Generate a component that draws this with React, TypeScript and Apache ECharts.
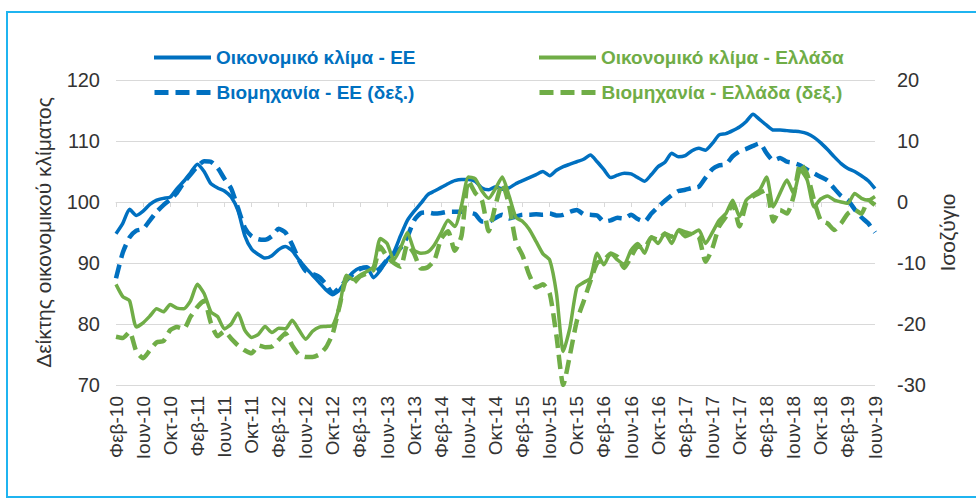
import React, { useEffect, useRef } from "react";
import * as echarts from "echarts";

const MONTHS = ["Ιαν", "Φεβ", "Μαρ", "Απρ", "Μαϊ", "Ιουν", "Ιουλ", "Αυγ", "Σεπ", "Οκτ", "Νοε", "Δεκ"];
const START_YEAR = 2010;
const START_MONTH = 1; // Φεβ
const N_MONTHS = 113; // Φεβ-10 .. Ιουν-19

const categories: string[] = [];
for (let k = 0; k < N_MONTHS; k++) {
  const m = START_MONTH + k;
  categories.push(`${MONTHS[m % 12]}-${String(START_YEAR + Math.floor(m / 12)).slice(2)}`);
}

const NAMES = [
  "Οικονομικό κλίμα - ΕΕ",
  "Βιομηχανία - ΕΕ (δεξ.)",
  "Οικονομικό κλίμα - Ελλάδα",
  "Βιομηχανία - Ελλάδα (δεξ.)",
];

const euClimate = [
  94.8, 96.5, 98.8, 97.8, 98.5, 99.6, 100.3, 100.6, 100.8, 102.2,
  103.4, 104.8, 106.2, 105.0, 103.0, 102.3, 101.8, 100.8, 98.6, 94.5,
  92.3, 91.4, 90.8, 91.2, 92.2, 92.7, 92.0, 90.5, 89.2, 88.0,
  86.8, 85.6, 84.8, 85.6, 87.2, 88.5, 89.2, 89.3, 87.6, 88.8,
  90.5, 91.8, 94.5, 97.0, 98.5, 99.8, 101.2, 101.8, 102.4, 103.0,
  103.5, 103.7, 103.7, 103.4, 102.3, 102.0, 102.5, 102.1, 102.3, 103.0,
  103.5, 104.0, 104.5, 105.0, 104.3, 105.2, 105.8, 106.2, 106.6, 107.0,
  107.7, 106.6, 105.3, 104.0, 104.4, 104.7, 104.6, 104.0, 103.4, 104.5,
  105.8, 106.5, 108.0, 107.4, 107.6, 108.4, 108.8, 108.5, 109.6, 111.0,
  111.2, 111.7, 112.3, 113.2, 114.4, 113.5, 112.6, 111.8, 111.8, 111.7,
  111.6, 111.5, 111.2, 110.6, 109.7, 108.6, 107.4, 106.3, 105.5, 105.0,
  104.3, 103.5, 102.2,
];

const euIndustry = [
  -12.5, -8.3, -5.8, -4.7, -4.4, -3.0, -1.6, -0.5, 0.4, 1.5,
  3.2, 4.5, 5.8, 6.7, 6.6, 5.6, 3.8, 2.2, -1.0, -4.2,
  -5.6, -6.1, -6.2, -5.6, -4.4, -5.0, -7.0, -9.5, -11.3, -11.8,
  -12.3, -13.5, -15.0, -14.0, -12.8, -11.8, -11.0, -10.7, -11.5, -10.8,
  -9.5, -8.5, -7.5, -5.7, -3.0, -1.8, -1.7, -1.9, -1.8, -1.6,
  -1.6, -1.6, -1.7, -2.0, -3.2, -3.2, -2.6, -2.1, -2.7, -2.4,
  -2.1, -2.1, -2.0, -2.1, -1.9, -2.2, -2.1, -1.6, -1.3, -2.0,
  -2.1, -2.2, -3.2, -3.0, -2.6, -2.7, -2.1, -2.8, -3.2, -1.9,
  -0.8, 0.2, 1.1, 1.8, 2.0, 2.3, 2.5, 4.0, 5.4, 6.0,
  6.2, 7.5, 8.3, 8.7, 9.2, 9.6, 8.0, 6.8, 7.2, 6.6,
  6.4, 6.0, 5.3, 4.7, 4.1, 3.5, 2.2, 1.0, 0.3, -1.2,
  -2.5, -3.5, -5.0,
];

const grClimate = [
  86.5, 84.5, 83.8, 79.5, 80.2, 81.3, 82.5, 82.0, 83.2, 82.6,
  82.5, 83.8, 86.5, 85.0, 82.0, 81.2, 79.2, 80.0, 81.8, 79.0,
  77.8, 78.3, 79.6, 78.6, 79.3, 79.2, 80.6, 79.0, 77.5, 78.8,
  79.5, 79.6, 79.8, 83.0, 88.0, 87.3, 88.0, 88.6, 89.4, 94.0,
  93.2, 90.5, 92.5, 95.0, 92.1, 91.6, 91.8, 93.0, 95.0, 97.0,
  96.0, 99.5, 104.1, 103.8, 101.8, 100.6, 102.2, 104.1, 101.0, 97.5,
  96.8, 95.5, 93.5, 91.5, 90.5, 85.0, 75.5, 79.5, 86.0, 86.8,
  87.5, 91.6, 89.7, 91.6, 90.5, 89.8, 92.1, 93.2, 91.6, 94.3,
  93.2, 94.9, 93.2, 95.4, 94.3, 94.8, 95.4, 93.2, 95.0, 97.0,
  98.1, 100.3, 97.6, 100.3, 101.2, 102.0, 104.1, 99.2, 101.5, 103.6,
  101.4, 105.2, 103.6, 99.2, 100.5, 101.0, 100.3, 100.0, 99.8, 101.4,
  100.6, 100.3, 100.9,
];

const grIndustry = [
  -22.1, -22.3, -21.3, -24.5, -25.6, -24.3, -23.0, -22.8, -21.0, -20.5,
  -20.8, -18.8, -17.2, -16.2, -19.8, -22.0, -21.2, -22.4, -23.5, -24.3,
  -24.8, -23.5, -23.8, -23.7, -22.6, -21.5, -23.5, -25.0, -25.4, -25.4,
  -25.0, -23.8, -21.5, -17.0, -12.8, -13.3, -12.2, -11.7, -11.1, -7.3,
  -9.0, -10.0, -10.6, -7.0, -8.5, -10.9, -10.7, -9.5, -6.0, -4.8,
  -8.0, -5.5, 3.5, 1.5, 0.3, -4.8, -0.5, 3.0, -0.5, -6.5,
  -8.8, -12.0, -14.0, -13.5, -15.0, -22.0, -30.0, -25.0, -19.5, -16.3,
  -13.0, -10.0, -9.5, -8.5, -9.0, -10.8, -9.0, -7.3, -7.5, -5.8,
  -6.2, -5.2, -5.7, -4.6, -5.0, -5.3, -5.7, -9.8, -7.6, -4.0,
  -2.4, -0.3, -4.0, -0.2, 0.9, 1.5, 2.0, -3.2, -1.3, -1.9,
  1.0, 6.3, 4.5, 0.3, -3.0, -3.5, -4.6, -3.5, -1.9, -1.3,
  -1.9, 0.3, -0.5,
];

const LEFT_TICKS = { min: 70, max: 120, interval: 10 };
const RIGHT_TICKS = { min: -30, max: 20, interval: 10 };

const BLUE = "#0070C0";
const GREEN = "#70AD47";
const FONT = "Liberation Sans, Arial, sans-serif";
const DASH = [14, 7];

export default function App() {
  const ref = useRef<HTMLDivElement>(null);

  useEffect(() => {
    if (!ref.current) return;
    const chart = echarts.init(ref.current, null, { renderer: "svg" });

    const legendBase = {
      orient: "horizontal",
      padding: 0,
      itemWidth: 57,
      itemHeight: 14,
      itemGap: 0,
      selectedMode: false,
      itemStyle: { opacity: 0 },
    };
    const legendText = (color: string) => ({
      color,
      fontSize: 19,
      fontWeight: "bold",
      fontFamily: FONT,
      lineHeight: 21,
    });

    const option: any = {
      animation: false,
      backgroundColor: "#ffffff",
      graphic: [
        {
          type: "rect",
          shape: { x: 7, y: 12, width: 1000, height: 485 },
          style: { fill: "none", stroke: "#1FB4F0", lineWidth: 2 },
          silent: true,
          z: -10,
        },
      ],
      legend: [
        { ...legendBase, data: [NAMES[0]], left: 152, top: 47, lineStyle: { width: 4 }, textStyle: legendText(BLUE) },
        { ...legendBase, data: [NAMES[1]], left: 152, top: 82, lineStyle: { width: 5, type: DASH }, textStyle: legendText(BLUE) },
        { ...legendBase, data: [NAMES[2]], left: 537, top: 47, lineStyle: { width: 4 }, textStyle: legendText(GREEN) },
        { ...legendBase, data: [NAMES[3]], left: 537, top: 82, lineStyle: { width: 5, type: DASH }, textStyle: legendText(GREEN) },
      ],
      grid: { left: 116, right: 101, top: 80, bottom: 115, containLabel: false },
      xAxis: {
        type: "category",
        data: categories,
        boundaryGap: false,
        axisLine: { lineStyle: { color: "#D9D9D9", width: 1 } },
        axisTick: { interval: 3, length: 5, lineStyle: { color: "#D9D9D9" } },
        axisLabel: {
          interval: 3,
          rotate: 90,
          margin: 11,
          color: "#333333",
          fontSize: 19,
          fontFamily: FONT,
        },
        splitLine: { show: false },
      },
      yAxis: [
        {
          type: "value",
          ...LEFT_TICKS,
          name: "Δείκτης οικονομικού κλίματος",
          nameLocation: "middle",
          nameGap: 62,
          nameTextStyle: { color: "#333333", fontSize: 21, fontFamily: FONT },
          axisLine: { show: false },
          axisTick: { show: false },
          axisLabel: { margin: 16, color: "#333333", fontSize: 20, fontFamily: FONT },
          splitLine: { lineStyle: { color: "#D9D9D9", width: 1 } },
        },
        {
          type: "value",
          position: "right",
          ...RIGHT_TICKS,
          name: "Ισοζύγιο",
          nameLocation: "middle",
          nameGap: 62,
          nameTextStyle: { color: "#333333", fontSize: 21, fontFamily: FONT },
          axisLine: { show: false },
          axisTick: { show: false },
          axisLabel: { margin: 22, color: "#333333", fontSize: 20, fontFamily: FONT },
          splitLine: { show: false },
        },
      ],
      series: [
        {
          name: NAMES[0],
          type: "line",
          data: euClimate,
          yAxisIndex: 0,
          symbol: "none",
          smooth: 0.2,
          lineStyle: { color: BLUE, width: 3.5 },
          itemStyle: { color: BLUE },
          z: 2,
        },
        {
          name: NAMES[1],
          type: "line",
          data: euIndustry,
          yAxisIndex: 1,
          symbol: "none",
          smooth: 0.2,
          lineStyle: { color: BLUE, width: 4.5, type: DASH },
          itemStyle: { color: BLUE },
          z: 2,
        },
        {
          name: NAMES[2],
          type: "line",
          data: grClimate,
          yAxisIndex: 0,
          symbol: "none",
          smooth: 0.2,
          lineStyle: { color: GREEN, width: 3.5 },
          itemStyle: { color: GREEN },
          z: 3,
        },
        {
          name: NAMES[3],
          type: "line",
          data: grIndustry,
          yAxisIndex: 1,
          symbol: "none",
          smooth: 0.2,
          lineStyle: { color: GREEN, width: 4.5, type: DASH },
          itemStyle: { color: GREEN },
          z: 3,
        },
      ],
    };

    chart.setOption(option);
    return () => chart.dispose();
  }, []);

  return (
    <div
      ref={ref}
      style={{ position: "fixed", left: 0, top: 0, width: 976, height: 500, background: "#fff" }}
    />
  );
}
